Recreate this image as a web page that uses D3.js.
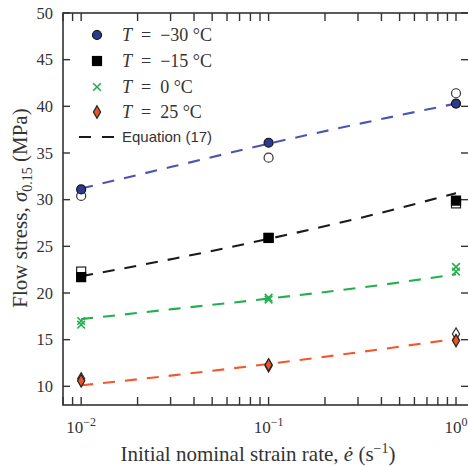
<!DOCTYPE html>
<html><head><meta charset="utf-8">
<script src="https://cdn.jsdelivr.net/npm/d3@7"></script>
<style>body{margin:0;background:#fff}svg{display:block}</style>
</head><body>
<svg id="c" width="468" height="467"></svg>
<script>
// ---- data ----
const rates = [0.01, 0.1, 1];
const curveRates = [0.01, 0.0316, 0.1, 0.316, 1];
const m30Filled = [31.1, 36.1, 40.3];
const m30Open   = [30.4, 34.5, 41.4];
const m15Filled = [21.7, 25.9, 29.9];
const m15Open   = [22.3, 25.9, 29.6];
const t0A = [17.0, 19.5, 22.8];
const t0B = [16.6, 19.3, 22.3];
const p25Filled = [10.6, 12.3, 14.9];
const p25Open   = [10.8, 12.2, 15.6];
const eqM30 = [31.2, 33.6, 36.0, 38.2, 40.3];
const eqM15 = [21.8, 23.7, 25.8, 28.1, 30.7];
const eqT0  = [17.2, 18.3, 19.4, 20.6, 22.0];
const eqP25 = [10.1, 11.2, 12.4, 13.7, 15.1];
const yTicks = [10, 15, 20, 25, 30, 35, 40, 45, 50];
const xMajor = [0.01, 0.1, 1];
const xMajorExp = ["−2", "−1", "0"];
const legendLabels = ["−30", "−15", "0", "25"];

const svg = d3.select("#c");
const L = 63, R = 469, T = 13, B = 405;
const x = d3.scaleLog().domain([0.008, 1.173]).range([L, R]);
const y = d3.scaleLinear().domain([8, 50]).range([B, T]);
const axisCol = "#333";
const serif = "'Liberation Serif','DejaVu Serif',serif";

// frame
svg.append("rect").attr("x", L).attr("y", T).attr("width", R - L).attr("height", B - T)
  .attr("fill", "none").attr("stroke", axisCol).attr("stroke-width", 1.6);

// x ticks (major + minor), inward, bottom & top
const xt = x.ticks().filter(d => d >= 0.008 && d <= 1.173);
const tl = 8;
const gx = svg.append("g");
xt.forEach(d => {
  gx.append("line").attr("x1", x(d)).attr("x2", x(d)).attr("y1", B).attr("y2", B - tl)
    .attr("stroke", axisCol).attr("stroke-width", 1.4);
  gx.append("line").attr("x1", x(d)).attr("x2", x(d)).attr("y1", T).attr("y2", T + tl)
    .attr("stroke", axisCol).attr("stroke-width", 1.4);
});
xMajor.forEach((d, i) => {
  const t = svg.append("text").attr("x", x(d)).attr("y", 433).attr("text-anchor", "middle")
    .attr("font-family", serif).attr("font-size", 17).attr("fill", "#333");
  t.append("tspan").text("10");
  t.append("tspan").attr("dy", -7).attr("font-size", 12).text(xMajorExp[i]);
});

// y ticks
yTicks.forEach(d => {
  svg.append("line").attr("x1", L).attr("x2", L + 7).attr("y1", y(d)).attr("y2", y(d))
    .attr("stroke", axisCol).attr("stroke-width", 1.4);
  svg.append("line").attr("x1", R - 8).attr("x2", R).attr("y1", y(d)).attr("y2", y(d))
    .attr("stroke", axisCol).attr("stroke-width", 1.4);
  svg.append("text").attr("x", 53).attr("y", y(d)).attr("dy", "0.35em").attr("text-anchor", "end")
    .attr("font-family", serif).attr("font-size", 16.5).attr("fill", "#333").text(d);
});

// axis labels
const xl = svg.append("text").attr("x", 258).attr("y", 461).attr("text-anchor", "middle")
  .attr("font-family", serif).attr("font-size", 21).attr("fill", "#333");
xl.append("tspan").text("Initial nominal strain rate, ");
xl.append("tspan").attr("font-style", "italic").text("ė");
xl.append("tspan").text(" (s");
xl.append("tspan").attr("dy", -8).attr("font-size", 14).text("−1");
xl.append("tspan").attr("dy", 8).text(")");

const yl = svg.append("text").attr("transform", "translate(27,208) rotate(-90)").attr("text-anchor", "middle")
  .attr("font-family", serif).attr("font-size", 21).attr("fill", "#333");
yl.append("tspan").text("Flow stress, ");
yl.append("tspan").attr("font-style", "italic").text("σ");
yl.append("tspan").attr("dy", 5).attr("font-size", 14).text("0.15");
yl.append("tspan").attr("dy", -5).text(" (MPa)");

// equation curves
const line = d3.line().x(d => x(d[0])).y(d => y(d[1])).curve(d3.curveMonotoneX);
const curves = [[eqM30, "#4a55b3"], [eqM15, "#1a1a1a"], [eqT0, "#22b04e"], [eqP25, "#f2582c"]];
curves.forEach(([vals, col]) => {
  svg.append("path").datum(curveRates.map((r, i) => [r, vals[i]])).attr("d", line)
    .attr("fill", "none").attr("stroke", col).attr("stroke-width", 2.1).attr("stroke-dasharray", "12,10");
});

// marker drawers
function circle(g, cx, cy, fill, stroke) {
  g.append("circle").attr("cx", cx).attr("cy", cy).attr("r", 4.5).attr("fill", fill)
    .attr("stroke", stroke).attr("stroke-width", 1.2);
}
function square(g, cx, cy, fill, stroke) {
  g.append("rect").attr("x", cx - 4.5).attr("y", cy - 4.5).attr("width", 9).attr("height", 9)
    .attr("fill", fill).attr("stroke", stroke).attr("stroke-width", 1.2);
}
function cross(g, cx, cy, col) {
  const s = 3.8;
  g.append("path").attr("d", `M${cx - s},${cy - s}L${cx + s},${cy + s}M${cx - s},${cy + s}L${cx + s},${cy - s}`)
    .attr("stroke", col).attr("stroke-width", 1.6).attr("fill", "none");
}
function diamond(g, cx, cy, fill, stroke) {
  const w = 3.6, h = 6.2;
  g.append("path").attr("d", `M${cx},${cy - h}L${cx + w},${cy}L${cx},${cy + h}L${cx - w},${cy}Z`)
    .attr("fill", fill).attr("stroke", stroke).attr("stroke-width", 1.2);
}

const gm = svg.append("g");
const blueFill = "#2b3a8e", orangeFill = "#e8522a", green = "#22b04e";
rates.forEach((r, i) => {
  circle(gm, x(r), y(m30Open[i]), "#fff", "#333");
  circle(gm, x(r), y(m30Filled[i]), blueFill, "#111");
  square(gm, x(r), y(m15Open[i]), "#fff", "#222");
  square(gm, x(r), y(m15Filled[i]), "#000", "#000");
  cross(gm, x(r), y(t0A[i]), green);
  cross(gm, x(r), y(t0B[i]), green);
  diamond(gm, x(r), y(p25Open[i]), "#fff", "#333");
  diamond(gm, x(r), y(p25Filled[i]), orangeFill, "#222");
});

// legend
const lg = svg.append("g");
const rowY = [35, 61, 87, 112];
const mx = 97, tx = 122;
circle(lg, mx, rowY[0], blueFill, "#111");
square(lg, mx, rowY[1], "#000", "#000");
cross(lg, mx, rowY[2], green);
diamond(lg, mx, rowY[3], orangeFill, "#222");
legendLabels.forEach((lab, i) => {
  const t = lg.append("text").attr("x", tx).attr("y", rowY[i]).attr("dy", "0.35em")
    .attr("font-family", serif).attr("font-size", 18).attr("fill", "#333");
  t.append("tspan").attr("font-style", "italic").text("T");
  t.append("tspan").text("\u2002=\u2002" + lab + " °C");
});
lg.append("line").attr("x1", 79).attr("x2", 114).attr("y1", 137).attr("y2", 137)
  .attr("stroke", "#1a1a1a").attr("stroke-width", 2.1).attr("stroke-dasharray", "12,11");
lg.append("text").attr("x", tx).attr("y", 137).attr("dy", "0.35em")
  .attr("font-family", "'Liberation Sans',Arial,sans-serif").attr("font-size", 15).attr("fill", "#333")
  .text("Equation (17)");
</script>
</body></html>
